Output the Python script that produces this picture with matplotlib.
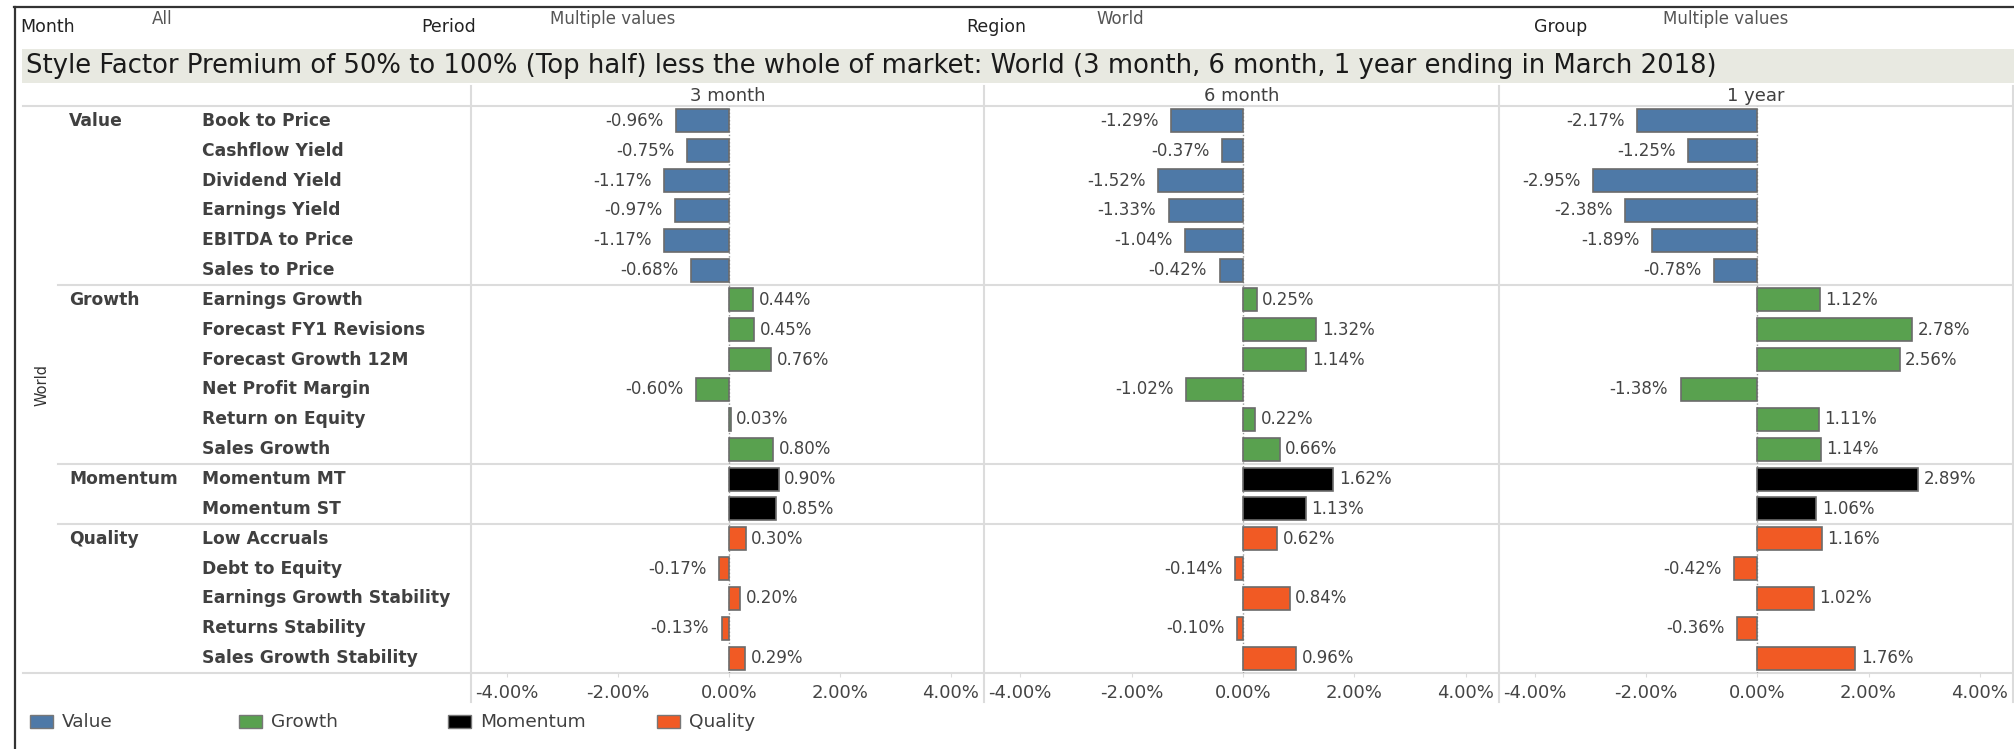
import matplotlib
matplotlib.use("Agg")
import matplotlib.pyplot as plt

W, H = 2015, 749

groups = ["Value", "Growth", "Momentum", "Quality"]
factors = [
    ["Book to Price", "Cashflow Yield", "Dividend Yield", "Earnings Yield",
     "EBITDA to Price", "Sales to Price"],
    ["Earnings Growth", "Forecast FY1 Revisions", "Forecast Growth 12M",
     "Net Profit Margin", "Return on Equity", "Sales Growth"],
    ["Momentum MT", "Momentum ST"],
    ["Low Accruals", "Debt to Equity", "Earnings Growth Stability",
     "Returns Stability", "Sales Growth Stability"],
]
periods = ["3 month", "6 month", "1 year"]

m3 = [-0.96, -0.75, -1.17, -0.97, -1.17, -0.68,
      0.44, 0.45, 0.76, -0.60, 0.03, 0.80,
      0.90, 0.85,
      0.30, -0.17, 0.20, -0.13, 0.29]
m6 = [-1.29, -0.37, -1.52, -1.33, -1.04, -0.42,
      0.25, 1.32, 1.14, -1.02, 0.22, 0.66,
      1.62, 1.13,
      0.62, -0.14, 0.84, -0.10, 0.96]
y1 = [-2.17, -1.25, -2.95, -2.38, -1.89, -0.78,
      1.12, 2.78, 2.56, -1.38, 1.11, 1.14,
      2.89, 1.06,
      1.16, -0.42, 1.02, -0.36, 1.76]
series = [m3, m6, y1]

ticks = [-4, -2, 0, 2, 4]
colors = {"Value": "#4e79a7", "Growth": "#59a14f",
          "Momentum": "#000000", "Quality": "#f15a24"}

plt.rcParams['font.family'] = ['DejaVu Sans']

fig = plt.figure(figsize=(W / 100, H / 100), dpi=100)

# background axes in pixel coordinates, y pointing down
bg = fig.add_axes([0, 0, 1, 1])
bg.set_xlim(0, W)
bg.set_ylim(H, 0)
bg.axis('off')

top, bottom = 106, 673
n = sum(len(f) for f in factors)
rowh = (bottom - top) / n
panel_x = [(471, 984), (984, 1499), (1499, 2013)]
grid = "#dcdcdc"
txt = "#404040"

# outer frame
bg.plot([14, W], [7, 7], color="#333333", lw=1.6)
bg.plot([15, 15], [7, H], color="#333333", lw=1.6)

# filter row
for lab, x in [("Month", 20), ("Period", 421), ("Region", 966), ("Group", 1534)]:
    bg.text(x, 27, lab, fontsize=12.5, color="#222222", va='center')
for lab, x in [("All", 152), ("Multiple values", 550), ("World", 1096),
               ("Multiple values", 1663)]:
    bg.text(x, 19, lab, fontsize=12, color="#555555", va='center')

# title band
bg.add_patch(plt.Rectangle((22, 49), W - 1 - 22, 34, color="#e8e9e1", lw=0))
bg.text(26, 66, "Style Factor Premium of 50% to 100% (Top half) less the whole of "
        "market: World (3 month, 6 month, 1 year ending in March 2018)",
        fontsize=18.6, color="#1a1a1a", va='center')

# grid lines
bg.plot([23, 2013], [top, top], color=grid, lw=1.5)
bg.plot([23, 2013], [bottom, bottom], color=grid, lw=1.5)
for x0, x1 in panel_x:
    bg.plot([x0, x0], [86, 702], color=grid, lw=1.5)
bg.plot([2013, 2013], [86, 702], color=grid, lw=1.5)

# row labels
bg.text(42, 385, "World", rotation=90, fontsize=10.5, color="#333333",
        va='center', ha='center', family=['Liberation Sans Narrow', 'DejaVu Sans'])
row = 0
for gi, g in enumerate(groups):
    if gi > 0:
        yy = top + row * rowh
        bg.plot([58, 2013], [yy, yy], color=grid, lw=1.5)
    bg.text(69, top + (row + 0.5) * rowh, g, fontsize=12.3, fontweight='bold',
            color=txt, va='center')
    for f in factors[gi]:
        bg.text(202, top + (row + 0.5) * rowh, f, fontsize=12.3, fontweight='bold',
                color=txt, va='center')
        row += 1

# legend
for i, g in enumerate(groups):
    x = 30 + i * 209
    bg.add_patch(plt.Rectangle((x, 715), 23, 13, facecolor=colors[g],
                               edgecolor="#777777", lw=1))
    bg.text(x + 32, 722, g, fontsize=13.3, color=txt, va='center')

# panels
cats = [g for g, f in zip(groups, factors) for _ in f]
for p, (vals, (x0, x1)) in enumerate(zip(series, panel_x)):
    ax = fig.add_axes([x0 / W, 1 - bottom / H, (x1 - x0) / W, (bottom - top) / H])
    ax.patch.set_alpha(0)
    ypos = list(range(n))
    ax.barh(ypos, vals, height=0.77, color=[colors[c] for c in cats],
            edgecolor="#6b6b6b", lw=1.2, zorder=3)
    ax.axvline(0, color="#9a9a9a", ls=':', lw=1, zorder=2)
    for yv, v in zip(ypos, vals):
        if v >= 0:
            ax.annotate(f"{v:.2f}%", (v, yv), xytext=(4, 0), textcoords='offset points',
                        ha='left', va='center', fontsize=12, color="#444444")
        else:
            ax.annotate(f"{v:.2f}%", (v, yv), xytext=(-9, 0), textcoords='offset points',
                        ha='right', va='center', fontsize=12, color="#444444")
    ax.set_xlim(-4.65, 4.6)
    ax.set_ylim(n - 0.5, -0.5)
    ax.set_yticks([])
    ax.set_xticks(ticks)
    ax.set_xticklabels([f"{t:.2f}%" for t in ticks])
    ax.tick_params(axis='x', length=3, color=grid, pad=5, labelsize=13,
                   labelcolor="#444444")
    for s in ax.spines.values():
        s.set_visible(False)
    bg.text((x0 + x1) / 2, 96, periods[p], fontsize=13, color=txt,
            ha='center', va='center')

fig.savefig("out.png", dpi=100)
